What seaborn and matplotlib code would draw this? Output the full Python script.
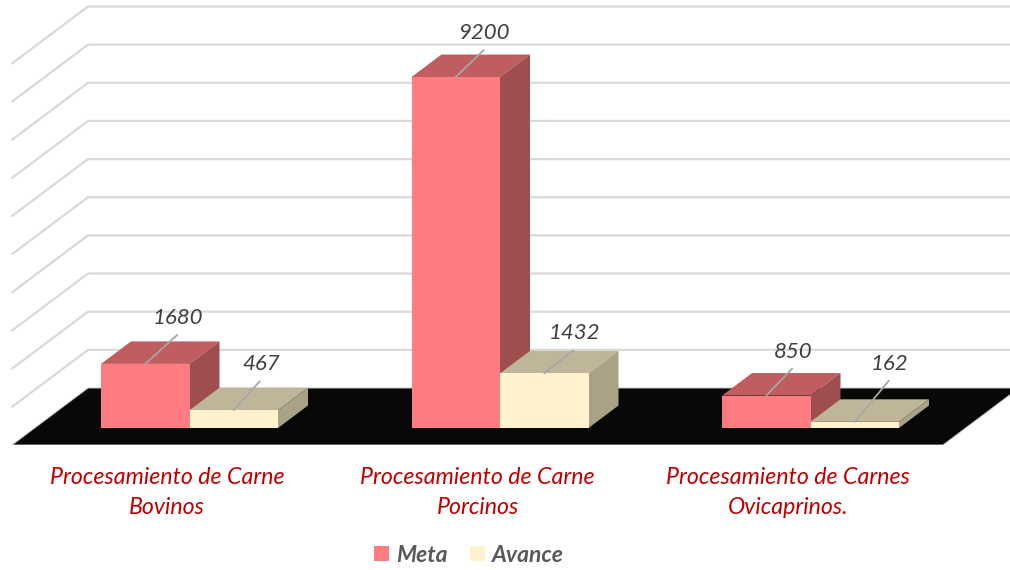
import matplotlib
matplotlib.use('Agg')
import matplotlib.pyplot as plt
from matplotlib.patches import Polygon
import numpy as np
import pandas as pd
import seaborn as sns

# Chart values
categorias = ['Procesamiento de Carne\nBovinos', 'Procesamiento de Carne\nPorcinos',
              'Procesamiento de Carnes\nOvicaprinos.']
meta = [1680, 9200, 850]
avance = [467, 1432, 162]
grid_values = [0, 1000, 2000, 3000, 4000, 5000, 6000, 7000, 8000, 9000, 10000]

# Colours for front, top and side faces
front_colors = {'Meta': '#FF7C80', 'Avance': '#FFF2CC'}
top_colors = {'Meta': '#BF5D60', 'Avance': '#BFB699'}
side_colors = {'Meta': '#9F4E50', 'Avance': '#A9A287'}

# Layout in pixels
px_x = 310.5      # pixels per category
px_y = 0.03815    # pixels per unit of value
cat0_px = 189.5
base_px = 428
floor_front_px = 445
bar_depth = (30, 22.5)
wall_depth = (76, 57)
# where each leader line ends, relative to the top of the bar
label_offsets = [[(32, -29), (26, -29)], [(28, -27), (29, -23)], [(26, -27), (34, -41)]]

sns.set_theme(style='white')
plt.rcParams['font.family'] = ['Lato', 'DejaVu Sans']

df = pd.DataFrame({
    'categoria': categorias * 2,
    'valor': meta + avance,
    'serie': ['Meta'] * 3 + ['Avance'] * 3,
})

fig = plt.figure(figsize=(10.1, 5.7), dpi=100)
ax = fig.add_axes([0, (570 - floor_front_px) / 570, 1, floor_front_px / 570])

sns.barplot(data=df, x='categoria', y='valor', hue='serie', palette=front_colors,
            width=177 / px_x, gap=0, saturation=1, linewidth=0, ax=ax, zorder=3.5)

ax.set_xlim(-cat0_px / px_x, (1010 - cat0_px) / px_x)
ax.set_ylim(-(floor_front_px - base_px) / px_y, base_px / px_y)

# Offsets between the pixel layout and the data axes
ddx, ddy = bar_depth[0] / px_x, bar_depth[1] / px_y
wdx, wdy = wall_depth[0] / px_x, wall_depth[1] / px_y
floor_y = -(floor_front_px - base_px) / px_y
floor_left = (12 - cat0_px) / px_x
floor_right = (943 - cat0_px) / px_x

# Back and side wall gridlines
for v in grid_values[1:]:
    ax.plot([floor_left, floor_left + wdx, floor_right + wdx],
            [floor_y + v, floor_y + wdy + v, floor_y + wdy + v],
            color='#D9D9D9', lw=1.6, zorder=1, solid_joinstyle='miter')

# Black floor
ax.add_patch(Polygon([(floor_left, floor_y), (floor_right, floor_y),
                      (floor_right + wdx, floor_y + wdy), (floor_left + wdx, floor_y + wdy)],
                     facecolor='#080808', edgecolor='#C8C8C8', lw=0.7, zorder=2))

# Top and side faces, data labels and leader lines
series_names = ['Meta', 'Avance']
for s, container in enumerate(ax.containers):
    name = series_names[s]
    for c, bar in enumerate(container):
        x0, x1 = bar.get_x(), bar.get_x() + bar.get_width()
        h = bar.get_height()
        ax.add_patch(Polygon([(x0, h), (x1, h), (x1 + ddx, h + ddy), (x0 + ddx, h + ddy)],
                             facecolor=top_colors[name], edgecolor='none', zorder=3 + s / 10))
        ax.add_patch(Polygon([(x1, 0), (x1, h), (x1 + ddx, h + ddy), (x1 + ddx, ddy)],
                             facecolor=side_colors[name], edgecolor='none', zorder=3 + s / 10))
        off = label_offsets[c][s]
        xc = (x0 + x1) / 2
        xe, ye = xc + off[0] / px_x, h - off[1] / px_y
        ax.plot([xc, xe], [h, ye], color='#A6A6A6', lw=1.3, zorder=4)
        ax.text(xe + 1 / px_x, ye + 17 / px_y, f'{int(h)}', ha='center', va='center', style='italic',
                fontsize=16, color='#404040', zorder=5)

# Category labels
ax.set_xticks(np.arange(3) - 22.5 / px_x, categorias)
ax.tick_params(axis='x', length=0, pad=16, colors='#C00000')
for t in ax.get_xticklabels():
    t.set_fontsize(16.7)
    t.set_style('italic')
    t.set_linespacing(1.5)
ax.set_yticks([])
ax.set_xlabel('')
ax.set_ylabel('')
sns.despine(ax=ax, left=True, bottom=True)
ax.patch.set_alpha(0)

# Legend
handles, labels = ax.get_legend_handles_labels()
ax.get_legend().remove()
leg = fig.legend(handles, labels, ncol=2, frameon=False, loc='center',
                 bbox_to_anchor=(469 / 1010, 1 - 555 / 570),
                 handlelength=0.65, handleheight=0.65, handletextpad=0.3, columnspacing=1.0,
                 prop={'style': 'italic', 'weight': 'bold', 'size': 16.5})
for t in leg.get_texts():
    t.set_color('#595959')

fig.savefig('out.png', dpi=100)
